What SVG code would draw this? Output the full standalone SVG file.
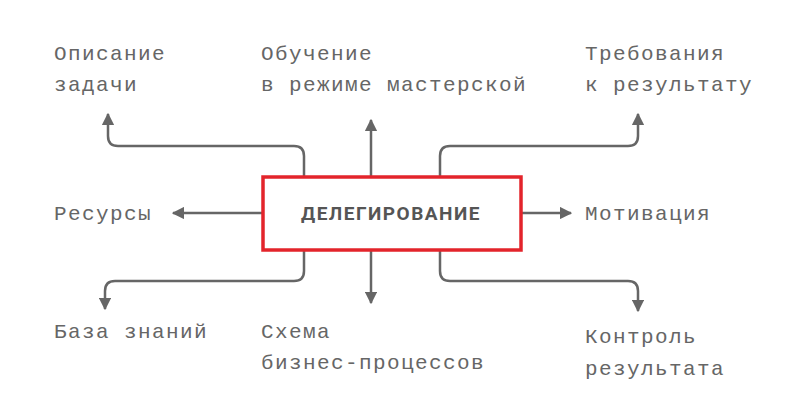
<svg xmlns="http://www.w3.org/2000/svg" width="800" height="419" viewBox="0 0 800 419">
<style>
.t{font-family:"Liberation Mono","DejaVu Sans Mono",monospace;font-size:21px;fill:#666;letter-spacing:1.4px}
.c{fill:none;stroke:#666;stroke-width:2.5}
</style>
<defs><marker id="a" viewBox="0 0 10 10" refX="9" refY="5" markerWidth="5" markerHeight="5" orient="auto"><path d="M0,0L10,5L0,10z" fill="#666"/></marker></defs>
<rect width="800" height="419" fill="#fff"/>
<g id="connectors">
<path class="c" marker-end="url(#a)" d="M304,177V156Q304,146 294,146H118Q108,146 108,136V114"/>
<path class="c" marker-end="url(#a)" d="M371,177V120"/>
<path class="c" marker-end="url(#a)" d="M440,177V156Q440,146 450,146H628Q638,146 638,136V114"/>
<path class="c" marker-end="url(#a)" d="M263,213H173"/>
<path class="c" marker-end="url(#a)" d="M521,213H571"/>
<path class="c" marker-end="url(#a)" d="M304,250V271Q304,281 294,281H115Q105,281 105,291V309"/>
<path class="c" marker-end="url(#a)" d="M371,250V303"/>
<path class="c" marker-end="url(#a)" d="M440,250V271Q440,281 450,281H628Q638,281 638,291V311"/>
</g>
<g id="center"><rect x="263" y="177" width="258" height="73" fill="#fff" stroke="#e3242b" stroke-width="3.5"/>
<text x="391" y="220" text-anchor="middle" font-family="Roboto,'Liberation Sans',sans-serif" font-weight="bold" font-size="19" fill="#555" letter-spacing="1.5">ДЕЛЕГИРОВАНИЕ</text></g>
<g id="n1"><text class="t" x="54" y="60">Описание</text><text class="t" x="54" y="91">задачи</text></g>
<g id="n2"><text class="t" x="261" y="60">Обучение</text><text class="t" x="261" y="91">в режиме мастерской</text></g>
<g id="n3"><text class="t" x="585" y="60">Требования</text><text class="t" x="585" y="91">к результату</text></g>
<g id="n4"><text class="t" x="54" y="220">Ресурсы</text></g>
<g id="n5"><text class="t" x="585" y="220">Мотивация</text></g>
<g id="n6"><text class="t" x="54" y="338">База знаний</text></g>
<g id="n7"><text class="t" x="261" y="338">Схема</text><text class="t" x="261" y="369">бизнес-процессов</text></g>
<g id="n8"><text class="t" x="585" y="343">Контроль</text><text class="t" x="585" y="375">результата</text></g>
</svg>
